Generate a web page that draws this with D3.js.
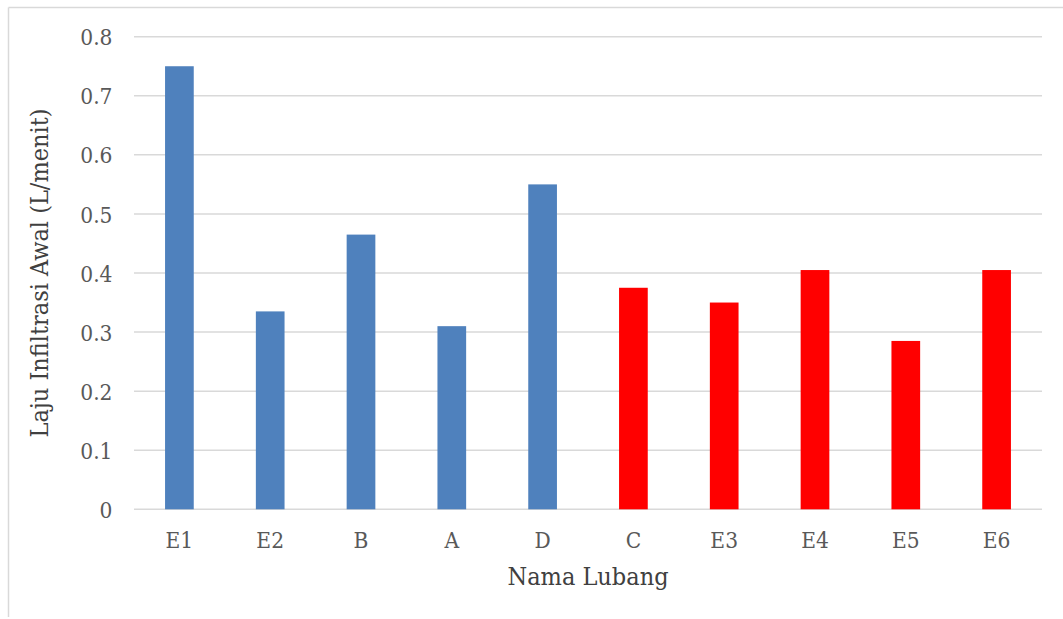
<!DOCTYPE html>
<html>
<head>
<meta charset="utf-8">
<script src="https://cdn.jsdelivr.net/npm/d3@7"></script>
<style>
  html, body { margin: 0; padding: 0; background: #fff; }
  svg { display: block; }
  text { font-family: "DejaVu Serif Condensed", "DejaVu Serif", serif; font-stretch: condensed; }
</style>
</head>
<body>
<svg id="chart" width="1063" height="619"></svg>
<script>
const categories = ["E1", "E2", "B", "A", "D", "C", "E3", "E4", "E5", "E6"];
const values = [0.75, 0.335, 0.465, 0.31, 0.55, 0.375, 0.35, 0.405, 0.285, 0.405];
const groups = ["blue", "blue", "blue", "blue", "blue", "red", "red", "red", "red", "red"];
const yTicks = [0, 0.1, 0.2, 0.3, 0.4, 0.5, 0.6, 0.7, 0.8];
const xTitle = "Nama Lubang";
const yTitle = "Laju Infiltrasi Awal (L/menit)";

const colors = { blue: "#4F81BD", red: "#FF0000" };

const svg = d3.select("#chart");
const W = 1063, H = 619;
const plot = { left: 134, right: 1042, top: 36.7, bottom: 509.3 };

// outer border (top & left visible)
svg.append("line").attr("x1", 8.5).attr("x2", W).attr("y1", 7.5).attr("y2", 7.5)
  .attr("stroke", "#D9D9D9").attr("stroke-width", 1.5);
svg.append("line").attr("x1", 8.5).attr("x2", 8.5).attr("y1", 7.5).attr("y2", 617)
  .attr("stroke", "#D9D9D9").attr("stroke-width", 1.5);

const p = 0.684;
const x = d3.scaleBand().domain(categories).range([plot.left, plot.right])
  .paddingInner(p).paddingOuter(p / 2);
const y = d3.scaleLinear().domain([0, 0.8]).range([plot.bottom, plot.top]);

// gridlines
svg.append("g").selectAll("line").data(yTicks).join("line")
  .attr("x1", plot.left).attr("x2", plot.right)
  .attr("y1", d => y(d)).attr("y2", d => y(d))
  .attr("stroke", "#D9D9D9").attr("stroke-width", 1.5);

// y axis labels
const yAxis = d3.axisLeft(y).tickValues(yTicks).tickSize(0).tickPadding(0)
  .tickFormat(d => d === 0 ? "0" : d3.format(".1f")(d));
const gy = svg.append("g").attr("transform", `translate(112.5,0)`).call(yAxis);
gy.select(".domain").remove();
gy.selectAll("text").attr("fill", "#595959").style("font-size", "22.5px")
  .style("font-family", null).attr("dy", "0.36em");

// bars
svg.append("g").selectAll("rect").data(categories).join("rect")
  .attr("x", d => x(d))
  .attr("width", x.bandwidth())
  .attr("y", (d, i) => y(values[i]))
  .attr("height", (d, i) => y(0) - y(values[i]))
  .attr("fill", (d, i) => colors[groups[i]]);

// x axis labels
const xAxis = d3.axisBottom(x).tickSize(0).tickPadding(0);
const gx = svg.append("g").attr("transform", `translate(0,${plot.bottom})`).call(xAxis);
gx.select(".domain").remove();
gx.selectAll("text").attr("fill", "#595959").style("font-size", "22.5px")
  .style("font-family", null).attr("y", 39).attr("dy", 0);

// axis titles
svg.append("text").attr("x", (plot.left + plot.right) / 2).attr("y", 585)
  .attr("text-anchor", "middle").attr("fill", "#404040").style("font-size", "25px")
  .text(xTitle);
svg.append("text").attr("transform", `translate(48,${(plot.top + plot.bottom) / 2}) rotate(-90)`)
  .attr("text-anchor", "middle").attr("fill", "#404040").style("font-size", "25px")
  .text(yTitle);
</script>
</body>
</html>
